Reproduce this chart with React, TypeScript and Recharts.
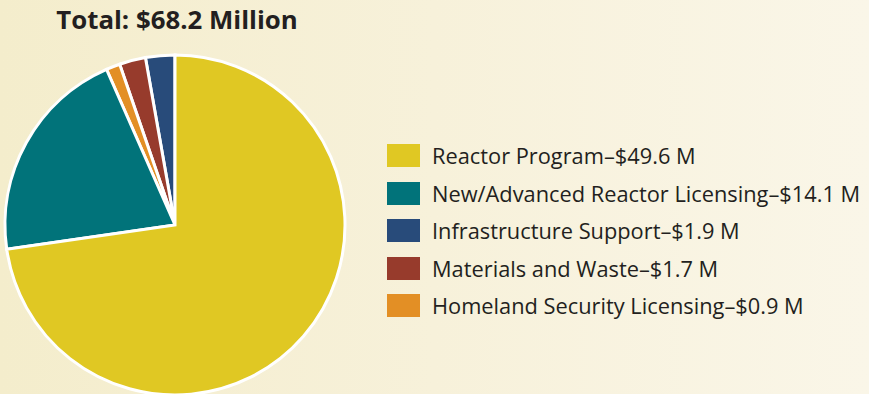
import React from 'react';
import { PieChart, Pie, Cell, Legend } from 'recharts';

// slices in drawing order (counterclockwise from 12 o'clock)
const sliceNames = ['Infrastructure Support', 'Materials and Waste', 'Homeland Security Licensing', 'New/Advanced Reactor Licensing', 'Reactor Program'];
const sliceValues = [1.9, 1.7, 0.9, 14.1, 49.6];
const sliceColors = ['#284b7a', '#973b2c', '#e38f25', '#01737a', '#e0c823'];

// legend order
const legendOrder = ['Reactor Program', 'New/Advanced Reactor Licensing', 'Infrastructure Support', 'Materials and Waste', 'Homeland Security Licensing'];

const title = 'Total: $68.2 Million';

const FONT = '"Open Sans", "Noto Sans", sans-serif';

function LegendBox() {
  return (
    <div style={{ fontFamily: FONT }}>
      {legendOrder.map((name) => {
        const i = sliceNames.indexOf(name);
        return (
          <div key={name} style={{ display: 'flex', alignItems: 'center', height: 37.5 }}>
            <div style={{ width: 33, height: 23, background: sliceColors[i], marginRight: 12 }} />
            <span style={{ fontSize: 21.8, color: '#231f20', whiteSpace: 'nowrap' }}>
              {name}–${sliceValues[i].toFixed(1)} M
            </span>
          </div>
        );
      })}
    </div>
  );
}

export default function App() {
  const data = sliceNames.map((name, i) => ({ name, value: sliceValues[i] }));

  return (
    <div
      style={{
        position: 'absolute',
        top: 0,
        left: 0,
        width: 869,
        height: 394,
        overflow: 'hidden',
        background: 'linear-gradient(to right, #f4edcc 0%, #f7f1da 50%, #faf6e8 100%)',
      }}
    >
      <div
        style={{
          position: 'absolute',
          top: 1,
          left: 0,
          width: 354,
          textAlign: 'center',
          fontFamily: FONT,
          fontWeight: 700,
          fontSize: 25.8,
          color: '#231f20',
        }}
      >
        {title}
      </div>
      <PieChart width={869} height={394} margin={{ top: 0, right: 0, bottom: 0, left: 0 }}>
        <Pie
          data={data}
          dataKey="value"
          cx={175}
          cy={225}
          outerRadius={170}
          startAngle={90}
          endAngle={450}
          stroke="#ffffff"
          strokeWidth={3}
          isAnimationActive={false}
        >
          {data.map((d, i) => (
            <Cell key={d.name} fill={sliceColors[i]} />
          ))}
        </Pie>
        <Legend
          content={() => <LegendBox />}
          wrapperStyle={{ position: 'absolute', left: 387, top: 137, width: 480 }}
        />
      </PieChart>
    </div>
  );
}
